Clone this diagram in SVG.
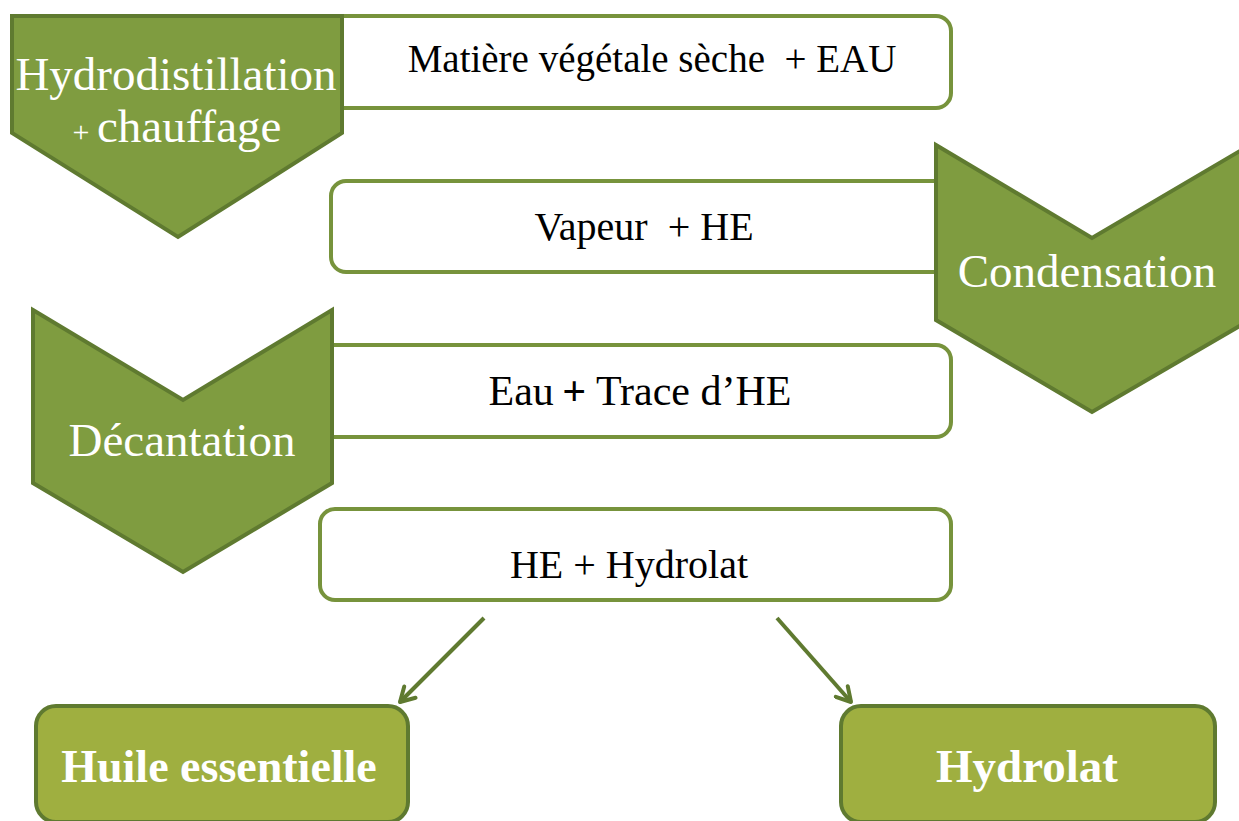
<svg xmlns="http://www.w3.org/2000/svg" width="1239" height="821" viewBox="0 0 1239 821">
<defs>
<style>
.box{fill:#ffffff;stroke:#77933c;stroke-width:4}
.chev{fill:#7f9c40;stroke:#5f7a30;stroke-width:4;stroke-linejoin:miter}
.res{fill:#9faf40;stroke:#5f7a30;stroke-width:4}
.t{font-family:"Liberation Serif","Times New Roman",serif;fill:#000000;text-anchor:middle}
.w{font-family:"Liberation Serif","Times New Roman",serif;fill:#ffffff;text-anchor:middle}
.b{font-family:"Liberation Serif","Times New Roman",serif;fill:#ffffff;text-anchor:middle;font-weight:bold}
.conn{stroke:#5f7a30;stroke-width:4;fill:none}
</style>
<marker id="arr" viewBox="0 0 20 20" refX="17" refY="10" markerWidth="20" markerHeight="20" markerUnits="userSpaceOnUse" orient="auto">
<path d="M3,2 L17,10 L3,18" fill="none" stroke="#5f7a30" stroke-width="4" stroke-linecap="round" stroke-linejoin="round"/>
</marker>
</defs>
<rect width="1239" height="821" fill="#ffffff"/>

<g id="box-matiere">
<rect class="box" x="320" y="16" width="631" height="92" rx="15"/>
<text class="t" x="652" y="72" font-size="39">Matière végétale sèche&#160; + EAU</text>
</g>
<g id="box-vapeur">
<rect class="box" x="331" y="181" width="640" height="91" rx="15"/>
<text class="t" x="644" y="240" font-size="40">Vapeur&#160; + HE</text>
</g>
<g id="box-eau">
<rect class="box" x="300" y="345" width="651" height="92" rx="15"/>
<text class="t" x="640" y="405" font-size="42">Eau<tspan font-weight="bold">&#8201;+</tspan> Trace d’HE</text>
</g>
<g id="box-he-hydrolat">
<rect class="box" x="320" y="509" width="631" height="91" rx="15"/>
<text class="t" x="629" y="578" font-size="40">HE + Hydrolat</text>
</g>

<g id="chevron-hydrodistillation">
<polygon class="chev" points="12,16 342,16 342,133 178,237 12,133"/>
<text class="w" x="176" y="90" font-size="47">Hydrodistillation</text>
<text class="w" x="177" y="142" font-size="47"><tspan font-size="30">+ </tspan>chauffage</text>
</g>
<g id="chevron-condensation">
<polygon class="chev" points="936,145 1092,238 1250,145 1250,320 1092,412 936,320"/>
<text class="w" x="1087" y="287" font-size="47">Condensation</text>
</g>
<g id="chevron-decantation">
<polygon class="chev" points="33,310 183,400 332,310 332,483 183,572 33,483"/>
<text class="w" x="182" y="456" font-size="47">Décantation</text>
</g>

<g id="result-huile">
<rect class="res" x="36" y="706" width="372" height="116" rx="20"/>
<text class="b" x="219" y="782" font-size="46">Huile essentielle</text>
</g>
<g id="result-hydrolat">
<rect class="res" x="841" y="706" width="374" height="116" rx="20"/>
<text class="b" x="1027" y="782" font-size="47">Hydrolat</text>
</g>

<g id="connectors">
<line class="conn" x1="484" y1="618" x2="400" y2="702" marker-end="url(#arr)"/>
<line class="conn" x1="777" y1="618" x2="851" y2="702" marker-end="url(#arr)"/>
</g>
</svg>
